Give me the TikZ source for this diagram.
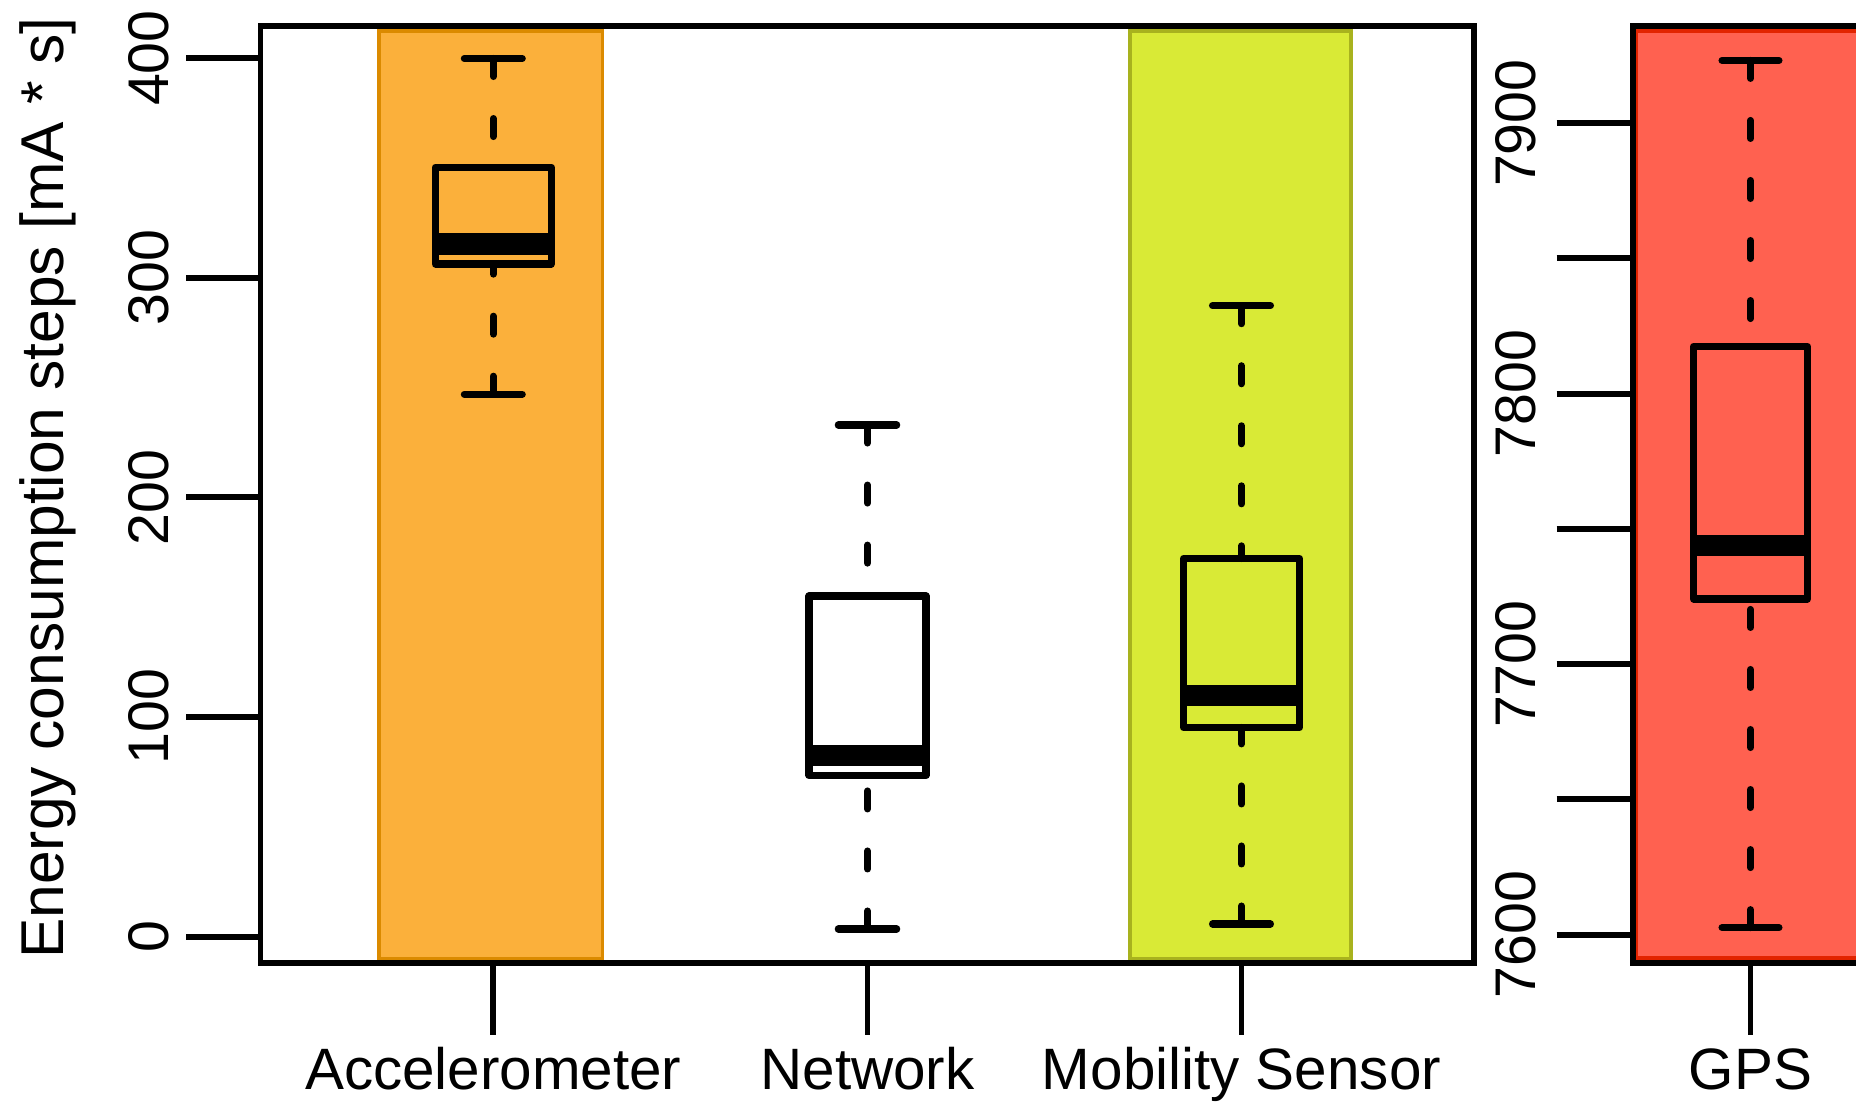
\documentclass[tikz,border=0pt]{standalone}
\usepackage{fontspec}
\setmainfont{Liberation Sans}
\usetikzlibrary{arrows.meta}

\definecolor{accfill}{RGB}{251,176,59}
\definecolor{accedge}{RGB}{219,138,0}
\definecolor{mobfill}{RGB}{217,234,54}
\definecolor{mobedge}{RGB}{168,178,30}
\definecolor{gpsfill}{RGB}{255,97,80}
\definecolor{gpsedge}{RGB}{226,36,0}

\begin{document}
\begin{tikzpicture}[
  x=0.01cm, y=-0.01cm,
  font=\fontsize{16.6}{20}\selectfont,
  frame/.style={draw, line width=1.7pt},
  band/.style={line width=1.1pt},
  boxrect/.style={draw, line width=2pt, line join=round},
  median/.style={line width=6pt},
  whisker/.style={line width=2pt, line cap=round, dash pattern=on 0.18cm off 0.42cm},
  staple/.style={line width=2pt, line cap=round},
  tick/.style={line width=1.7pt},
  ticklabel/.style={rotate=90, inner sep=0pt, font=\fontsize{16.3}{20}\selectfont},
  catlabel/.style={anchor=base, inner sep=0pt}
]
   \clip (0,0) rectangle (1856,1102);

   % The coloured bands behind the boxes
   \filldraw[band, fill=accfill, draw=accedge] (378.8,30.6) rectangle (602.5,958.5);
   \filldraw[band, fill=mobfill, draw=mobedge] (1130,30.6) rectangle (1351,958.5);
   \filldraw[band, fill=gpsfill, draw=gpsedge] (1636,31) rectangle (1900,958);

   % The boxes: centre/low/q1/median/q3/high/half width
   \foreach \cx/\lo/\qa/\md/\qc/\hi/\hw in {
       493.3/394.2/264/244/167.2/58.5/58,
       867.5/929/775.5/755.5/596/425/58.5,
       1241.5/924/727.5/695.6/558.5/305.7/58,
       1750.5/927.6/599/545.5/346.5/60.4/57}{
     \draw[whisker] (\cx,\lo) -- (\cx,\qa);
     \draw[whisker] (\cx,\hi) -- (\cx,\qc);
     \draw[staple] ({\cx-\hw/2},\lo) -- ({\cx+\hw/2},\lo);
     \draw[staple] ({\cx-\hw/2},\hi) -- ({\cx+\hw/2},\hi);
     \draw[median] ({\cx-\hw},\md) -- ({\cx+\hw},\md);
     \draw[boxrect] ({\cx-\hw},\qa) rectangle ({\cx+\hw},\qc);
   }

   % The two frames
   \draw[frame] (260.5,26) rectangle (1473.7,962.5);
   \draw[frame] (1633,26) rectangle (1900,962.5);

   % Left axis
   \foreach \v in {0,100,...,400}{
     \draw[tick] (186,{936.5-2.196*\v}) -- (260.5,{936.5-2.196*\v});
     \node[ticklabel] (yl\v) at (148.5,{936.5-2.196*\v}) {\v};
   }
   \node[rotate=90, inner sep=0pt, font=\fontsize{17.2}{20}\selectfont] (ytitle) at (48,488)
     {Energy consumption steps [mA * s]};

   % Right axis, only every other tick is labelled
   \foreach \v in {7600,7650,...,7900}
     \draw[tick] (1556.6,{934.6-2.705*(\v-7600)}) -- (1633,{934.6-2.705*(\v-7600)});
   \foreach \v in {7600,7700,7800,7900}
     \node[ticklabel] (yr\v) at (1516,{934.6-2.705*(\v-7600)}) {\v};

   % Category ticks and labels
   \foreach \cx/\nm/\txt in {493.3/acc/Accelerometer, 867.5/net/Network,
                             1241.5/mob/Mobility Sensor, 1750.5/gps/GPS}{
     \draw[tick] (\cx,962.5) -- (\cx,1035);
     \node[catlabel] (\nm) at (\cx,1089) {\txt};
   }
\end{tikzpicture}
\end{document}
